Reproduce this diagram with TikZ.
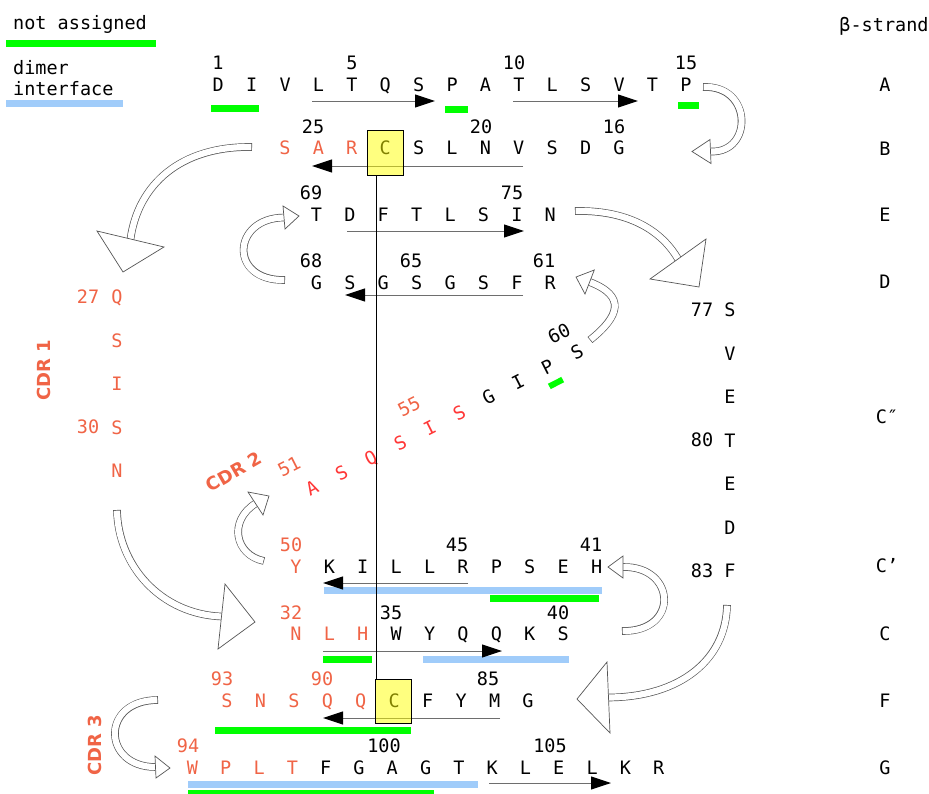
\documentclass[tikz,border=0pt]{standalone}
\usepackage{fontspec}
\setmainfont{DejaVu Sans Mono}
\newfontfamily\cdrfont{DejaVu Sans}
\usetikzlibrary{arrows.meta}
\definecolor{cdr}{RGB}{240,100,70}
\definecolor{cdrred}{RGB}{255,55,55}
\definecolor{ngreen}{RGB}{0,255,0}
\definecolor{dblue}{RGB}{160,204,250}
\definecolor{lgray}{RGB}{110,110,110}
\definecolor{bgray}{RGB}{85,85,85}
\definecolor{cysyellow}{RGB}{255,255,0}
\newcommand\blockband[1]{\draw[bandout] #1; \draw[bandin] #1;}
\tikzset{
  res/.style={inner sep=0pt, text height=13.5pt, text depth=0pt, font=\fontsize{18.5}{20}\selectfont},
  strand/.style={draw=lgray, line width=1pt, -{Triangle[length=20pt,width=13pt,color=black]}},
  bandout/.style={draw=bgray, line width=7.6pt},
  bandin/.style={draw=white, line width=6.2pt, shorten <=0.7pt},
  headtri/.style={draw=bgray, fill=white, line width=0.7pt, line join=miter},
  gbar/.style={fill=ngreen},
  bbar/.style={fill=dblue},
  cys/.style={draw=black, fill=cysyellow, fill opacity=0.5, line width=0.8pt, inner sep=0pt, minimum width=36pt, minimum height=45pt},
  cdrlab/.style={font=\cdrfont\bfseries\fontsize{18}{20}\selectfont, text=cdr, inner sep=0pt},
}
\begin{document}
\begin{tikzpicture}[x=1pt,y=-1pt]
\fill[white] (0,0) rectangle (929,793);
\useasboundingbox (0,0) rectangle (929,793);

% ---------- legend ----------
\node[res, anchor=west] (legna) at (13,23) {not assigned};
\fill[gbar] (6,40) rectangle (156,47);
\node[res, anchor=west] (legdi) at (13,68) {dimer};
\node[res, anchor=west] (legif) at (13,89) {interface};
\fill[bbar] (6,100) rectangle (123,107);

% ---------- bars ----------
\fill[gbar] (211,105) rectangle (259,112);
\fill[gbar] (445,106) rectangle (468,113);
\fill[gbar] (678,102) rectangle (699,109);
\fill[bbar] (324,587) rectangle (602,594);
\fill[gbar] (490,595) rectangle (599,602);
\fill[gbar] (323,656) rectangle (372,663);
\fill[bbar] (423,656) rectangle (569,663);
\fill[gbar] (215,727) rectangle (411,734);
\fill[bbar] (188,781) rectangle (478,788);
\fill[gbar] (188,790) rectangle (434,797);
\node[fill=ngreen, minimum width=15pt, minimum height=6pt, inner sep=0pt, rotate=27] (gp59) at (556,383) {};

% ---------- strand arrows ----------
\coordinate (sa1) at (312,101); \coordinate (sa1e) at (435,101);
\coordinate (sa2) at (513,101); \coordinate (sa2e) at (638,101);
\draw[strand] (sa1) -- (sa1e);
\draw[strand] (sa2) -- (sa2e);
\coordinate (sb) at (523,166); \coordinate (sbe) at (312,166);
\draw[strand] (sb) -- (sbe);
\coordinate (se) at (347,231); \coordinate (see) at (524,231);
\draw[strand] (se) -- (see);
\coordinate (sd) at (523,295); \coordinate (sde) at (345,295);
\draw[strand] (sd) -- (sde);
\coordinate (scp) at (468,583); \coordinate (scpe) at (323,583);
\draw[strand] (scp) -- (scpe);
\coordinate (sc) at (323,651); \coordinate (sce) at (502,651);
\draw[strand] (sc) -- (sce);
\coordinate (sf) at (500,718); \coordinate (sfe) at (323,718);
\draw[strand] (sf) -- (sfe);
\coordinate (sg) at (489,783); \coordinate (sge) at (611,783);
\draw[strand] (sg) -- (sge);

% ---------- residues ----------
\foreach \l [count=\i from 0] in {D,I,V,L,T,Q,S,P,A,T,L,S,V,T,P}
  \node[res] (ra\i) at ({218.3+33.4*\i},85) {\l};
\foreach \l/\cl [count=\i from 0] in {S/cdr,A/cdr,R/cdr,C/black,S/black,L/black,N/black,V/black,S/black,D/black,G/black}
  \node[res,text=\cl] (rb\i) at ({285+33.4*\i},148) {\l};
\foreach \l [count=\i from 0] in {T,D,F,T,L,S,I,N}
  \node[res] (re\i) at ({316.5+33.4*\i},215) {\l};
\foreach \l [count=\i from 0] in {G,S,G,S,G,S,F,R}
  \node[res] (rd\i) at ({316.5+33.4*\i},283) {\l};
\foreach \l/\cl [count=\i from 0] in {Y/cdr,K/black,I/black,L/black,L/black,R/black,P/black,S/black,E/black,H/black}
  \node[res,text=\cl] (rcp\i) at ({296+33.4*\i},567) {\l};
\foreach \l/\cl [count=\i from 0] in {N/cdr,L/cdr,H/cdr,W/black,Y/black,Q/black,Q/black,K/black,S/black}
  \node[res,text=\cl] (rcc\i) at ({296+33.4*\i},634) {\l};
\foreach \l/\cl [count=\i from 0] in {S/cdr,N/cdr,S/cdr,Q/cdr,Q/cdr,C/black,F/black,Y/black,M/black,G/black}
  \node[res,text=\cl] (rf\i) at ({227+33.45*\i},701) {\l};
\foreach \l/\cl [count=\i from 0] in {W/cdr,P/cdr,L/cdr,T/cdr,F/black,G/black,A/black,G/black,T/black,K/black,L/black,E/black,L/black,K/black,R/black}
  \node[res,text=\cl] (rg\i) at ({192.5+33.3*\i},768) {\l};
% C'' strand (vertical)
\foreach \l [count=\i from 0] in {S,V,E,T,E,D,F}
  \node[res] (rcpp\i) at (730,{310+43.5*\i}) {\l};
% CDR 1 (vertical)
\foreach \l [count=\i from 0] in {Q,S,I,S,N}
  \node[res,text=cdr] (rcdra\i) at (117,{297+43.5*\i}) {\l};
% CDR 2 (diagonal)
\foreach \l/\cl [count=\i from 0] in {A/cdrred,S/cdrred,Q/cdrred,S/cdrred,I/cdrred,S/cdrred,G/black,I/black,P/black,S/black}
  \node[res,text=\cl,rotate=27] (rcdrb\i) at ({312+29.44*\i},{488-15.11*\i}) {\l};

% ---------- residue numbers ----------
\node[res] (n1) at (218,63) {1};
\node[res] (n5) at (352,63) {5};
\node[res] (n10) at (514,63) {10};
\node[res] (n15) at (686,63) {15};
\node[res] (n25) at (313,127) {25};
\node[res] (n20) at (481,127) {20};
\node[res] (n16) at (614,127) {16};
\node[res] (n69) at (311,193) {69};
\node[res] (n75) at (512,193) {75};
\node[res] (n68) at (311,261) {68};
\node[res] (n65) at (411,261) {65};
\node[res] (n61) at (544,261) {61};
\node[res,text=cdr] (n50) at (291,545) {50};
\node[res] (n45) at (457,545) {45};
\node[res] (n41) at (591,545) {41};
\node[res,text=cdr] (n32) at (291,613) {32};
\node[res] (n35) at (391,613) {35};
\node[res] (n40) at (558,613) {40};
\node[res,text=cdr] (n93) at (222,679) {93};
\node[res,text=cdr] (n90) at (322,679) {90};
\node[res] (n85) at (488,679) {85};
\node[res,text=cdr] (n94) at (188,746) {94};
\node[res] (n100) at (384,746) {100};
\node[res] (n105) at (550,746) {105};
\node[res] (n77) at (702,310) {77};
\node[res] (n80) at (702,440) {80};
\node[res] (n83) at (702,571) {83};
\node[res,text=cdr] (n27) at (88,297) {27};
\node[res,text=cdr] (n30) at (88,427) {30};
\node[res,text=cdr,rotate=27] (n51) at (289,466) {51};
\node[res,text=cdr,rotate=27] (n55) at (409,406) {55};
\node[res,rotate=27] (n60) at (559,333) {60};

% ---------- CDR labels ----------
\node[cdrlab, rotate=90] (cdr1) at (44,370) {CDR 1};
\node[cdrlab, rotate=30] (cdr2) at (234,472) {CDR 2};
\node[cdrlab, rotate=90] (cdr3) at (95,745) {CDR 3};

% ---------- beta-strand column ----------
\node[res] (hdr) at (884,25) {β-strand};
\node[res] (lA) at (885,85) {A};
\node[res] (lB) at (885,149) {B};
\node[res] (lE) at (885,215) {E};
\node[res] (lD) at (885,282) {D};
\node[res] (lCpp) at (887,417) {C″};
\node[res] (lCp) at (887,566) {C'};
\node[res] (lC) at (885,634) {C};
\node[res] (lF) at (885,701) {F};
\node[res] (lG) at (885,768) {G};

% ---------- disulfide ----------
\node[cys] (cysB) at (385,152.5) {};
\node[cys, minimum height=44pt] (cysF) at (393,701) {};
\draw[line width=0.8pt] ([xshift=-9pt]cysB.south) -- ([xshift=-17pt]cysF.north);

% ---------- block arrows (loops) ----------
% 15 -> 16
\blockband{(703,87) .. controls (753,85) and (753,153) .. (711,151.5)}
\draw[headtri] (710,139.5) -- (692,151.5) -- (711,163.5) -- cycle;
% 26 -> 27
\blockband{(252,147) .. controls (180,146) and (138,185) .. (130.5,239)}
\draw[headtri] (97,231) -- (123,272) -- (164,247) -- cycle;
% 68 -> 69
\blockband{(285,280) .. controls (228,281) and (232,218) .. (284,217.5)}
\draw[headtri] (283,206) -- (299,216) -- (285,229) -- cycle;
% 76 -> 77
\blockband{(575,211) .. controls (625,210) and (660,228) .. (678,259)}
\draw[headtri] (706,239) -- (699,287) -- (650,279) -- cycle;
% 60 -> 61
\blockband{(590,340) .. controls (620,316) and (626,296) .. (589.7,282)}
\draw[headtri] (594.3,270) -- (576,277) -- (585,294) -- cycle;
% 31 -> 32
\blockband{(117,510) .. controls (118,565) and (160,614) .. (221.5,616.5)}
\draw[headtri] (225,584) -- (255,622) -- (218,649) -- cycle;
% 50 -> 51
\blockband{(264,561) .. controls (235,555) and (228,521) .. (255.5,503.5)}
\draw[headtri] (248,492) -- (269,496) -- (263,515) -- cycle;
% 40 -> 41
\blockband{(622,631) .. controls (680,632) and (676,566) .. (623,567)}
\draw[headtri] (623,556) -- (608,567) -- (623,578) -- cycle;
% 83 -> 84
\blockband{(727,605) .. controls (726,660) and (680,697) .. (608.5,697.5)}
\draw[headtri] (607,662) -- (577,699) -- (610,733) -- cycle;
% 93 -> 94
\blockband{(158,700) .. controls (100,700) and (102,767) .. (155.5,767)}
\draw[headtri] (155,756) -- (170,768) -- (156,778) -- cycle;
\end{tikzpicture}
\end{document}
